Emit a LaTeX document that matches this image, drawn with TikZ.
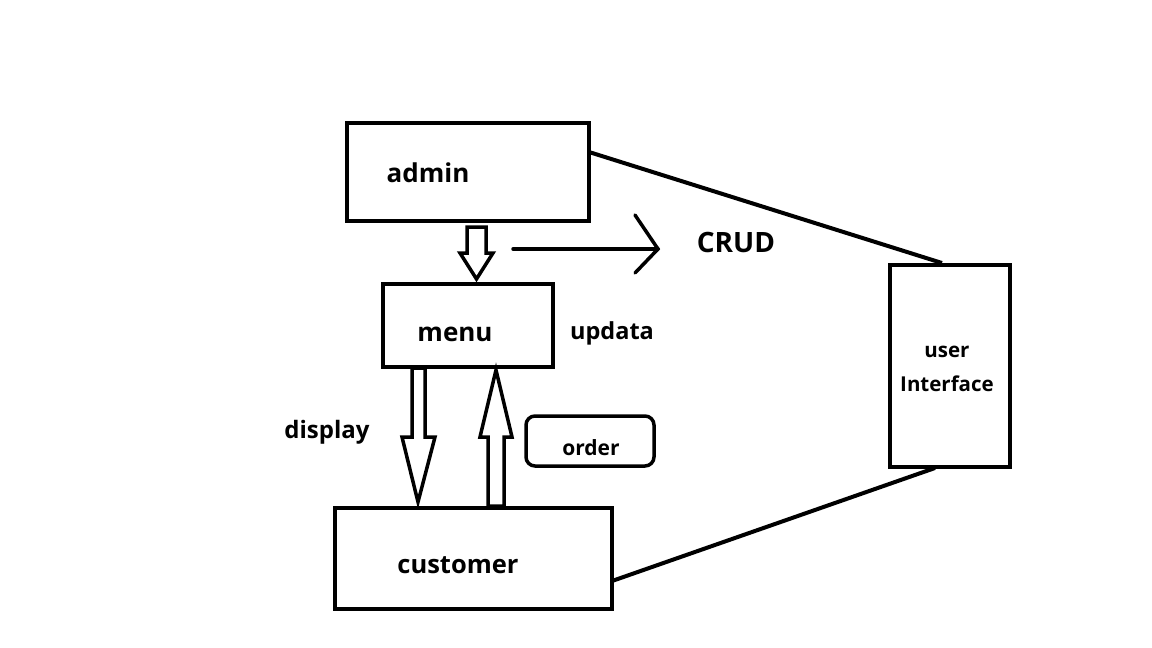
\documentclass[tikz,border=0pt]{standalone}
\usepackage{fontspec}
\setmainfont{Open Sans}
\usetikzlibrary{calc}
\tikzset{
  box/.style={draw, line width=4pt, inner sep=0pt},
  lbl/.style={inner sep=0pt, anchor=center},
  hollow/.style={draw, line width=3.5pt, line join=miter, fill=white},
  link/.style={draw, line width=4pt},
}
\newcommand{\fs}[1]{\fontsize{#1}{#1}\selectfont\bfseries}
\begin{document}
\begin{tikzpicture}[x=1pt,y=-1pt]
\useasboundingbox (0,0) rectangle (1152,648);
\fill[white] (0,0) rectangle (1152,648);
% boxes
\node[box, minimum width=242pt, minimum height=98pt] (admin) at (468,172) {};
\node[box, minimum width=170pt, minimum height=83pt] (menu) at (468,325.5) {};
\node[box, minimum width=277pt, minimum height=101pt] (customer) at (473.5,558.5) {};
\node[box, minimum width=120pt, minimum height=202pt] (ui) at (950,366) {};
\node[draw, line width=3.5pt, rounded corners=9pt, minimum width=128pt, minimum height=50pt, inner sep=0pt] (order) at (590,441) {};
% labels
\node[lbl, font=\fs{26}] (tadmin) at (428,172.5) {admin};
\node[lbl, font=\fs{26}] (tmenu) at (455,334.5) {menu};
\node[lbl, font=\fs{25.5}] (tcust) at (458,565.5) {customer};
\node[lbl, font=\fs{28}] (tcrud) at (736,242.5) {CRUD};
\node[lbl, font=\fs{23.5}] (tupd) at (612,333.5) {updata};
\node[lbl, font=\fs{24}] (tdisp) at (327,432.5) {display};
\node[lbl, font=\fs{21}] (tord) at (591,447.5) {order};
\node[lbl, font=\fs{20.5}, anchor=base] (tuser) at (947,357) {user};
\node[lbl, font=\fs{20.5}, anchor=base] (tintf) at (947,391) {Interface};
% lines to user interface
\coordinate (a1) at (589,152);
\coordinate (u1) at (942,263);
\coordinate (c1) at (612,581);
\coordinate (u2) at (935,468);
\draw[link] (a1) -- (u1);
\draw[link] (c1) -- (u2);
% admin -> menu hollow arrow
\draw[hollow] (467,227) -- (486,227) -- (486,253) -- (493,253) -- (476.5,279) -- (460,253) -- (467,253) -- cycle;
% CRUD arrow
\coordinate (cr0) at (513,249);
\coordinate (cr1) at (658,249);
\draw[link, line width=3.5pt, line cap=round] (cr0) -- (cr1);
\draw[link, line width=3.5pt, line cap=round, line join=miter] (635,215) -- (cr1) -- (635,273);
% display arrow (menu -> customer)
\draw[hollow] (412,368) -- (425,368) -- (425,437) -- (435,437) -- (418,502) -- (402,437) -- (412,437) -- cycle;
% order arrow (customer -> menu)
\draw[hollow] (488,506) -- (504,506) -- (504,437) -- (512,437) -- (496,370) -- (480,437) -- (488,437) -- cycle;
\end{tikzpicture}
\end{document}
